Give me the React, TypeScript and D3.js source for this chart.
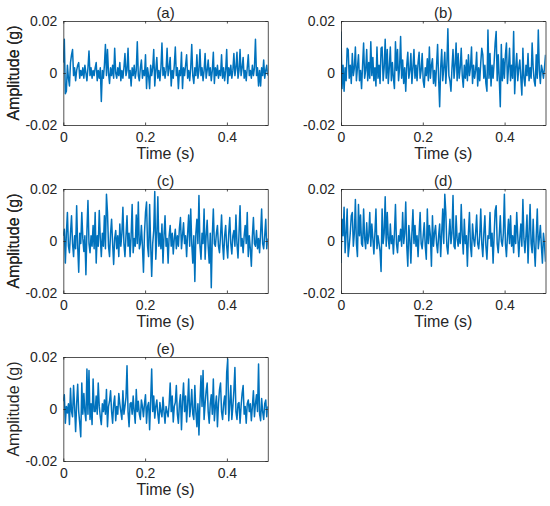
import { useRef, useEffect } from 'react';
import * as d3 from 'd3';

// Amplitude samples in mg (1 mg = 0.001 g), 200 samples over 0.5 s
const ampA = [
  4, 13, -8, -7, 3, -2, -5, 4, 7, 9, -1, 2, -3, 1, 3, 4, -2, 1, -1, 2,
  -2, 3, 0, -3, 2, 8.5, -1, 2, -2, 1, -1, 2, 4, -3, 1, -2, 2, -11, 1, -2,
  3, 11, -1, 9, 0, -4, 2, -1, 3, -2, 9.5, 0, -2, 2, -1, 4, -3, 1, -2, 2,
  7.5, -1, 1, 9.5, -2, 1, -5, 2, -1, 3, -2, 1, 12, -1, -3, 2, 5, -2, 1, -1,
  7, -6, 2, -1, -6, 3, -1, 2, 9, -5, 1, 6, -2, 1, -3, 2, 11.5, -1, 2, -2,
  1, 9.5, -1, 2, 6, -5, 1, -2, 3, 10, -1, 2, -6, 1, -1, 8, -6, 2, -1, 3,
  7, -2, 1, -3, 2, 11, -1, -4, 2, -1, 7, -2, 1, 9, -1, 2, -3, 1, 7.5, -2,
  1, 5, -1, 2, -3, 1, 8, -4, 2, -1, 3, -2, 1, -1, 7, -2, 2, -3, 1, 9,
  -4, 2, -1, 3, -2, 1, 7.5, -1, 2, 8, -2, 1, 9, -1, 2, 6, -2, 1, -3, 2,
  7, -1, 1, -2, 3, -1, 2, 13, -1, 2, -5, 1, -5, 2, -1, 5, -2, 1, 3, -1,
];

const ampB = [
  16, -6, 3, -7, 2, -3, 9.5, 9, -2, 3, -4, 7.5, -1, 2, 10, -3, 2, 7, -3, 1,
  -6, 3, 11.5, -2, 1, 9, -3, 4, -2, 12, -1, 6, -3, 2, -5, 10, -2, 3, -4, 9.5,
  10, -3, 2, 13, -2, 9, -4, 2, 10, -3, 4, -2, -6, 12, 1, 9, -3, 2, 14, -2,
  5, -4, 2, -7, 3, 8, -2, 1, 7.5, -4, 2, 9, -2, 3, -3, 4, 8, -2, 1, 7.5,
  -3, -5.5, 2, -1, 5.5, -3, 10, -2, 3, 5.5, -4, 1, -5, 3, 11, -2, -13, 2, 9, -3,
  2, 8, -4, 3, 17, -1, -3, -7, 2, 9, -2, 3, 11.5, -3, 7.5, -2, 2, 9.5, -1, -5.5,
  3, -2, 5, -3, 7, -1, 2, 10, -4, 3, -2, 1, 8, -5, 2, -3, 4, 9.5, 7, -2,
  3, -4, -7, 16.5, -2, 7.5, -5, 3, -2, 4, 11.5, 16, -3, 7, -2, -13, 11, -3, 5.5, -2,
  7, 11.5, -4, 2, 9.5, -3, 3, -2, 16, -8, 2, 7.5, -3, 2, 5, -2, -8.5, 9.5, -2, -5,
  3, -1, 7.5, -3, 2, -2, 11.5, 2, -3, -5, 7, -2, 16.5, 1, -4, 3, 1, -2, 2, 7,
];

const ampC = [
  2, 4.5, -8.5, 3, 11, -2, -4.5, 3, 9.7, -1, -6, 2, -3, 13.6, -2, -12, 3, -1, 11, 1,
  -4, 2, -13, 4, 15.6, -1, -4.5, 2, -2, 6, -3, 11, -8.5, 2, -2, 11.7, 1, -6, 3, -2,
  9.7, -3, 18, 11, -2, -6, 3, 8.4, -1, -9, 1, 4, -3, 2, -6, 6.5, -2, 3, 13, -1,
  -6, 2, 9.7, -2, 3, -6, 2, 14, -4.5, 1, -2, 10, -1, 15, -3, -1, 6, -2, -12, 3,
  11, 15, -2, -6, 14, -1, -13.6, -1, 4, 19, -7, 2, 17, -2, 3, -3, 6.5, -8.5, 2, 9.7,
  -2, 1, -8.5, 2, 6, -2, 3, -5, 1, 4.5, -3, 2, -2, 5, 9, -3, 2, 7, -1, 2,
  -6, 3, 10, -2, 12.3, -1, -8.5, 2, -15.6, 3, 8.4, -1, 17.5, -2, -7, 3, -1, 12.3, -7, 2,
  8, -2, -8.5, 3, -18, 2, 12.3, -1, -2, 3, 6, -2, -4.5, 2, 10, -1, -7, 2, 6, -2,
  -6.5, 3, 9, -1, -5, 2, 4, -2, 10, -1, -6.5, 3, 13.6, -2, 1, -4.5, 2, 6, -1, 11,
  -6, 2, -3, -9.7, 2, 9, -1, -2, 4, -3, 1, -4.5, 3, 12.3, -1, -3, 2, 8.4, -3, 1,
];

const ampD = [
  -8.5, 8.4, 2, 13, -4.5, 3, 12.3, -6, -2, 3, 9.7, 11, -2, 3, 16, -1, -6, 14, 2, 10,
  -1, -2, 12.3, 1, -3, 7, -1, 2, 11, -2, 6.5, 1, -5, 3, 12.3, -3, 2, -1, -4, -11.7,
  12.3, -1, 3, 17, -2, 11, 1, -3, 6.5, -1, 2, -5, 3, 14, -1, -4.5, 2, 0, 4.5, -2,
  11, -1, 3, 15, -2, -9.7, 6, 1, -8.5, 3, 12, -1, 6, -2, 2, -6, 3, 11, -1, -3,
  2, 7, -2, -7, 12.3, -1, 6, 2, -9.7, 9.7, -2, 3, 6, -1, -4.5, 2, 6.5, -6, 3, 12.3,
  -1, 18, 11, -2, -5, 2, 8.4, -1, 3, 17.5, -2, -3, 9.7, 1, -2, 3, -1, 14, 2, -5,
  8.4, -1, 2, -9.7, 3, 11, -2, -6, 6.5, 1, -2, 3, 10, -1, -3, 2, 12.3, -1, -6, 3,
  9.7, -2, -7, 2, 1, 11, -2, 3, -8.5, 2, 11.7, 13.6, -1, -4.5, 2, 9.7, 0, -2, 3, 18,
  -1, -6, 2, 8.4, -1, 9.7, -2, 2, -4.5, 6, -1, 11, 2, -6, 1, 6.5, -2, 16, 1, -4.5,
  2, 10, -8.5, 3, 14, -1, -4.5, 8.4, -2, -9.7, 2, 12.3, -3, 1, 6, -2, -8.5, 3, -1, -8,
];

const ampE = [
  3, 5.5, -5.5, 1, -1.5, 2, -6, 8, -1, -3, 9, 1, -8.7, 2, 9.5, -1, -5.5, -10.7, 10, -2,
  6, -1, -4.5, 15.4, -2, 14.8, -4, 2, -6, 11.5, -1, -1, 5, -2, 10, 1, -3, -6, 2, -1,
  3.5, -2, 7.5, -6.8, 1, 3, 7, -1, -5.5, 2, 5, -4.5, 1, -2, 6, 2, -1, -4, 7, -2,
  1, 4.5, 16.6, -1, -6.8, 2, 2.5, -2, 5, -1, -5.5, 7.5, -1, 3, -2, -4, 3.5, 1, -3, 2,
  5.5, -5.5, 1, 2.5, -8, 3, 15.4, -1, 5, -3.5, 1, 3.5, -2, -5.5, 2.5, -1, -3, 4.5, -1, -5.5,
  1, -1, -3, 2, 10, -1, 5, -5, 1, 2.5, 9, -2, -5.5, 2, 5.5, -8, 3, 10, -1, 5,
  -5, 2, 11.5, -3, 1, 7.5, -2, -4, 9, -1, -6.8, 2, -10, 3, 12.8, 1, 14.8, -4, 2, 7,
  10, -1, -5.5, 2, 5.5, -2, 11.5, -4.5, 1, 5, -6.8, 2, 7.5, 10, -1, -4, 2, 5, -2, 14,
  19.2, -4.5, 2, 9, -4, 1, 7, 16, -1, -4, 2, 2.5, -5.5, 1, 6, 9, -2, 1, -5.5, 2,
  3.5, -1, 2, -4.5, 1, 7, -3, 2, 5.5, -1, 17.3, -2, -4.5, 4, -1, -4, 2, 3.5, -3, 1,
];

const panelTitles = ['(a)', '(b)', '(c)', '(d)', '(e)'];
const series = [ampA, ampB, ampC, ampD, ampE];
const xTicks = [0, 0.2, 0.4];
const yTicks = [-0.02, 0, 0.02];
const duration = 0.5;

const width = 550;
const height = 506;

// plot box of every panel: left, top
const panelOrigins: [number, number][] = [
  [63.3, 21],
  [341, 21],
  [63.3, 189],
  [341, 189],
  [63.3, 357],
];
const plotW = 204.5;
const plotH = 104;

export default function App() {
  const svgRef = useRef<SVGSVGElement | null>(null);

  useEffect(() => {
    if (!svgRef.current) return;
    const svg = d3.select(svgRef.current);
    svg.selectAll('*').remove();

    const axisColor = '#262626';
    const font = '"Liberation Sans", Arial, sans-serif';

    series.forEach((vals, k) => {
      const [ox, oy] = panelOrigins[k];
      const g = svg.append('g').attr('transform', `translate(${ox},${oy})`);

      const x = d3.scaleLinear().domain([0, duration]).range([0, plotW]);
      const y = d3.scaleLinear().domain([-0.02, 0.02]).range([plotH, 0]);

      const dt = duration / (vals.length - 1);
      const line = d3
        .line<number>()
        .x((_, i) => x(i * dt))
        .y((d) => y(d / 1000));

      g.append('rect')
        .attr('width', plotW)
        .attr('height', plotH)
        .attr('fill', 'white');

      g.append('clipPath')
        .attr('id', `clip${k}`)
        .append('rect')
        .attr('width', plotW)
        .attr('height', plotH);

      g.append('path')
        .datum(vals)
        .attr('clip-path', `url(#clip${k})`)
        .attr('d', line)
        .attr('fill', 'none')
        .attr('stroke', '#0072BD')
        .attr('stroke-width', 1.5)
        .attr('stroke-linejoin', 'round');

      const fmt = (d: d3.NumberValue) => (+d === 0 ? '0' : String(+d));

      const bottom = g
        .append('g')
        .attr('transform', `translate(0,${plotH})`)
        .call(
          d3.axisBottom(x).tickValues(xTicks).tickFormat(fmt).tickSizeInner(-2.5).tickSizeOuter(0).tickPadding(7.5)
        );
      const left = g
        .append('g')
        .call(
          d3.axisLeft(y).tickValues(yTicks).tickFormat(fmt).tickSizeInner(-2.5).tickSizeOuter(0).tickPadding(6)
        );
      const top = g
        .append('g')
        .call(d3.axisTop(x).tickValues(xTicks).tickFormat(() => '').tickSizeInner(-2.5).tickSizeOuter(0));
      const right = g
        .append('g')
        .attr('transform', `translate(${plotW},0)`)
        .call(d3.axisRight(y).tickValues(yTicks).tickFormat(() => '').tickSizeInner(-2.5).tickSizeOuter(0));

      [bottom, left, top, right].forEach((ax) => {
        ax.select('.domain').attr('stroke', axisColor).attr('stroke-width', 0.8);
        ax.selectAll('.tick line').attr('stroke', axisColor).attr('stroke-width', 0.8);
        ax.selectAll('.tick text')
          .attr('fill', axisColor)
          .attr('font-family', font)
          .attr('font-size', 14);
      });

      g.append('text')
        .attr('x', plotW / 2)
        .attr('y', -3)
        .attr('text-anchor', 'middle')
        .attr('font-family', font)
        .attr('font-size', 15)
        .attr('fill', axisColor)
        .text(panelTitles[k]);

      g.append('text')
        .attr('x', plotW / 2)
        .attr('y', plotH + 34)
        .attr('text-anchor', 'middle')
        .attr('font-family', font)
        .attr('font-size', 16)
        .attr('fill', axisColor)
        .text('Time (s)');

      g.append('text')
        .attr('transform', `translate(${19 - ox},${plotH / 2}) rotate(-90)`)
        .attr('text-anchor', 'middle')
        .attr('font-family', font)
        .attr('font-size', 16)
        .attr('fill', axisColor)
        .text('Amplitude (g)');
    });
  }, []);

  return (
    <div>
      <svg
        ref={svgRef}
        width={width}
        height={height}
        style={{ position: 'absolute', left: 0, top: 0, background: 'white' }}
      ></svg>
    </div>
  );
}
